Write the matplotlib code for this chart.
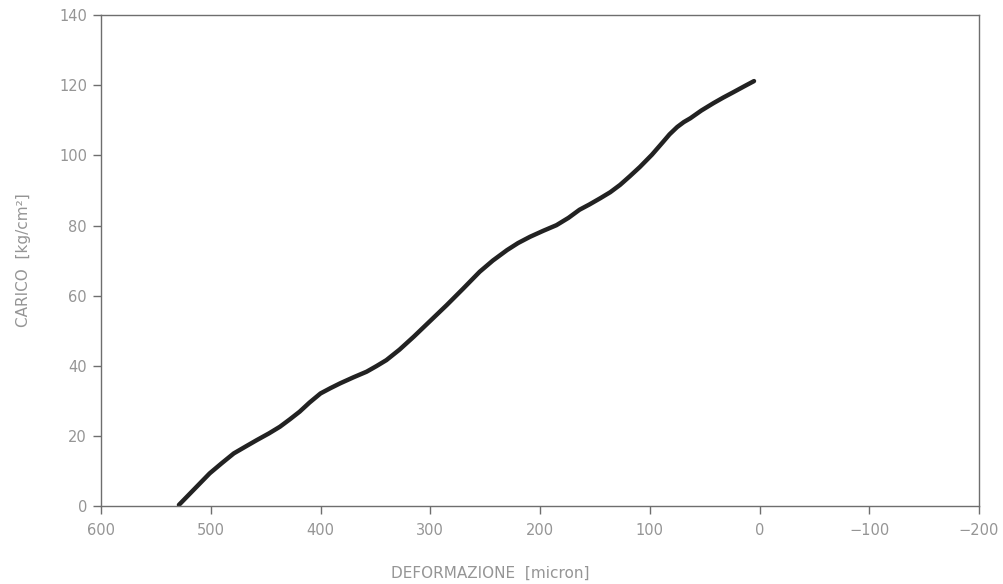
import matplotlib
matplotlib.use("Agg")
import matplotlib.pyplot as plt

# deformation [micron] vs load [kg/cm2]
deformazione = [529, 515, 501, 490, 479, 468, 458, 447, 437, 428, 419, 410,
                400, 391, 382, 370, 358, 349, 340, 328, 315, 300, 285, 270,
                255, 243, 230, 220, 209, 197, 185, 174, 164, 155, 145, 136,
                127, 118, 109, 98, 88, 82, 75, 69, 63, 53, 42, 33, 24, 14, 5]
carico = [0.3, 4.8, 9.3, 12.2, 15.0, 17.0, 18.8, 20.7, 22.6, 24.7, 26.9, 29.5,
          32.1, 33.6, 35.0, 36.7, 38.3, 39.9, 41.6, 44.6, 48.3, 52.8, 57.3, 62.0,
          66.8, 70.0, 73.0, 75.0, 76.8, 78.5, 80.1, 82.2, 84.5, 86.0, 87.8, 89.5,
          91.6, 94.1, 96.7, 100.2, 103.8, 106.0, 108.1, 109.5, 110.6, 112.8, 114.9, 116.5,
          118.0, 119.7, 121.2]

x_ticks = [600, 500, 400, 300, 200, 100, 0, -100, -200]
y_ticks = [0, 20, 40, 60, 80, 100, 120, 140]

txt = "#959595"
frame = "#6e6e6e"

fig = plt.figure(figsize=(10.04, 5.84), dpi=100)
ax = fig.add_axes([0.1006, 0.1336, 0.8745, 0.8404])

ax.plot(deformazione, carico, color="#222222", lw=3.2,
        solid_joinstyle="round", solid_capstyle="round")

ax.set_xlim(600, -200)
ax.set_ylim(0, 140)
ax.set_xticks(x_ticks)
ax.set_yticks(y_ticks)
ax.set_xticklabels([str(v).replace("-", "\u2212") for v in x_ticks])

for s in ax.spines.values():
    s.set_color(frame)
    s.set_linewidth(1.0)

ax.tick_params(axis="both", colors=frame, labelcolor=txt, labelsize=10.5,
               length=6, width=1, direction="out")
ax.tick_params(axis="x", pad=6)
ax.tick_params(axis="y", pad=4)

ax.set_xlabel("DEFORMAZIONE  [micron]", color=txt, fontsize=11, labelpad=20.5, x=0.443)
ax.set_ylabel("CARICO  [kg/cm\u00b2]", color=txt, fontsize=11, labelpad=20)

fig.savefig("out.png", dpi=100)
